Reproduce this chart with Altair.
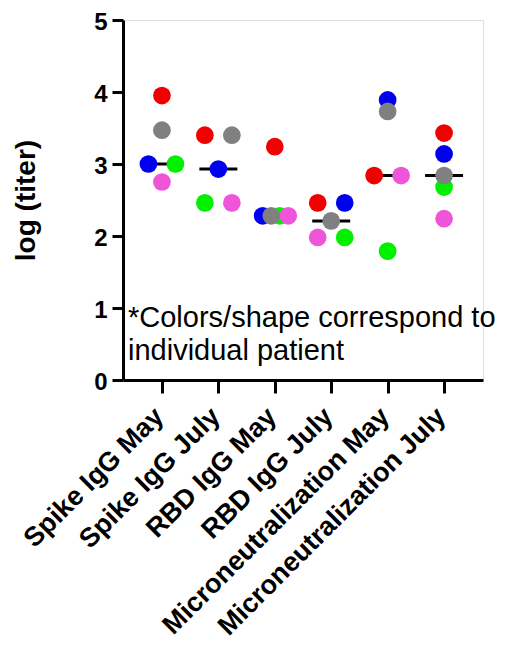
import altair as alt
import pandas as pd

categories = ["Spike IgG May", "Spike IgG July", "RBD IgG May", "RBD IgG July",
              "Microneutralization May", "Microneutralization July"]

# patients in drawing order (bottom -> top)
patients = ["green", "blue", "red", "pink", "grey"]
patient_colors = ["#00F000", "#0000F0", "#F00000", "#EE55D8", "#808080"]

# log titer per patient, one value per category
values = {
    "green": [3.00, 2.46, 2.28, 1.98, 1.79, 2.68],
    "blue":  [3.00, 2.93, 2.28, 2.46, 3.89, 3.14],
    "red":   [3.95, 3.40, 3.24, 2.46, 2.84, 3.43],
    "pink":  [2.75, 2.46, 2.28, 1.98, 2.84, 2.24],
    "grey":  [3.47, 3.40, 2.28, 2.21, 3.73, 2.84],
}
# horizontal scatter slot within each column (-1 left, 0 centre, 1 right)
jitter = {
    "green": [1, -1, 0.37, 1, 0, 0],
    "blue":  [-1, 0, -0.9, 1, 0, 0],
    "red":   [0, -1, 0, -1, -1, 0],
    "pink":  [0, 1, 1, -1, 1, 0],
    "grey":  [0, 1, -0.26, 0, 0, 0],
}

note = "*Colors/shape correspond to\nindividual patient"

rows = []
for p in patients:
    for i, c in enumerate(categories):
        rows.append({"patient": p, "category": c, "value": values[p][i], "jitter": jitter[p][i]})
df = pd.DataFrame(rows)

FONT = "Liberation Sans"

x_enc = alt.X("category:N", sort=categories,
              scale=alt.Scale(type="point", padding=0.69),
              axis=alt.Axis(title=None, labelAngle=-45, labelAlign="right", labelBaseline="middle",
                            labelFont=FONT, labelFontSize=27, labelFontWeight="bold", labelColor="black",
                            domainColor="black", domainWidth=3, tickColor="black", tickWidth=3,
                            tickSize=13, labelPadding=19, labelOffset=-3, labelLimit=400,
                            labelOverlap=False))
y_scale = alt.Scale(domain=[0, 5], nice=False)
y_axis = alt.Axis(title="log (titer)", values=[0, 1, 2, 3, 4, 5], format="d", grid=False,
                  labelFont=FONT, labelFontSize=24, labelFontWeight="bold", labelColor="black",
                  titleFont=FONT, titleFontSize=28, titleFontWeight="bold", titleColor="black",
                  titleX=-97, titleY=180, titleAlign="center", titleBaseline="middle",
                  domainColor="black", domainWidth=3, tickColor="black", tickWidth=3,
                  tickSize=11, labelPadding=5, labelOffset=2)

base = alt.Chart(df)

median = base.mark_tick(color="black", size=38, thickness=3).encode(
    x=x_enc,
    y=alt.Y("median(value):Q", scale=y_scale, axis=y_axis),
)

points = base.mark_circle(size=314, opacity=1).encode(
    x=x_enc,
    xOffset=alt.XOffset("jitter:Q", scale=alt.Scale(domain=[-1, 1], range=[-13.5, 13.5])),
    y=alt.Y("value:Q", scale=y_scale, axis=y_axis),
    color=alt.Color("patient:N", scale=alt.Scale(domain=patients, range=patient_colors), legend=None),
)

text = alt.Chart(pd.DataFrame({"note": [note]})).mark_text(
    align="left", baseline="alphabetic", lineBreak="\n", lineHeight=33,
    font=FONT, fontSize=29, color="black"
).encode(
    x=alt.value(5),
    y=alt.Y(datum=0.74, scale=y_scale),
    text="note:N",
)

chart = alt.layer(median, points, text).properties(
    width=360, height=360,
    autosize=alt.AutoSizeParams(type="none"),
    padding={"left": 115, "top": 12, "right": 14, "bottom": 258},
).configure_view(stroke=None).configure(background="white")

chart.save("out.html", embed_options={"renderer": "svg", "actions": False})
